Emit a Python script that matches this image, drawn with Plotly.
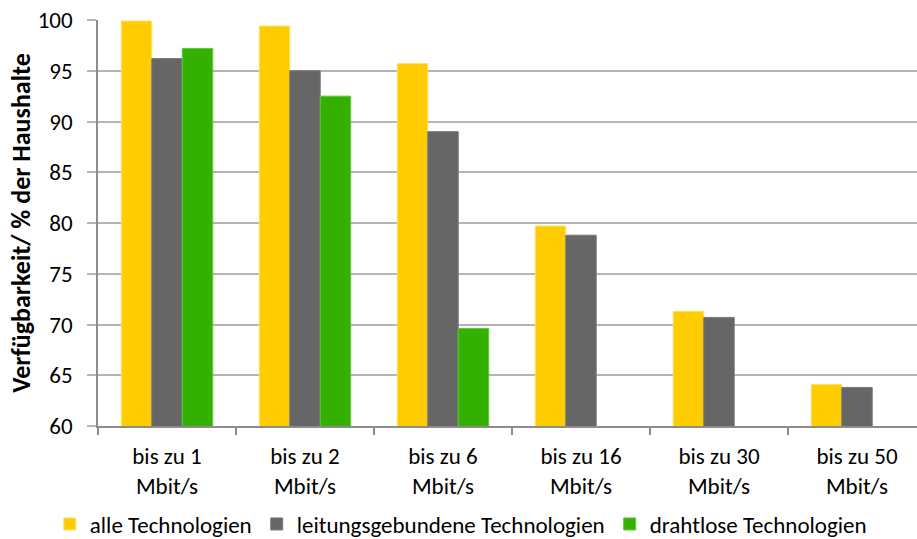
import plotly.graph_objects as go

categories = ["bis zu 1<br>Mbit/s", "bis zu 2<br>Mbit/s", "bis zu 6<br>Mbit/s",
              "bis zu 16<br>Mbit/s", "bis zu 30<br>Mbit/s", "bis zu 50<br>Mbit/s"]
alle = [99.9, 99.4, 95.7, 79.7, 71.3, 64.1]
leitung = [96.2, 95.0, 89.0, 78.8, 70.7, 63.8]
drahtlos = [97.2, 92.5, 69.6, 59.9, None, None]
series_names = ["alle Technologien", "leitungsgebundene Technologien", "drahtlose Technologien"]
colors = ["#FFCC00", "#666666", "#33B000"]
edge = ["#FFE066", "#7A7A7A", "#5CC83A"]
y_ticks = [60, 65, 70, 75, 80, 85, 90, 95, 100]

FONT = "Carlito, Lato"
fig = go.Figure()
for name, vals, c, e in zip(series_names, [alle, leitung, drahtlos], colors, edge):
    fig.add_trace(go.Bar(
        x=categories, y=vals, name=name,
        marker=dict(color=c, line=dict(color=e, width=1)),
    ))

fig.update_layout(
    width=917, height=539,
    margin=dict(l=98, r=0, t=20, b=113, autoexpand=False),
    paper_bgcolor="white", plot_bgcolor="white",
    barmode="group", bargap=0.337, bargroupgap=0,
    font=dict(family=FONT, size=23, color="#000000"),
    showlegend=True,
    legend=dict(orientation="h", x=0.443, xanchor="center", y=-0.2414, yanchor="middle",
                font=dict(family=FONT, size=23), itemwidth=30, traceorder="normal",
                tracegroupgap=0),
    xaxis=dict(
        range=[-0.5, 5.435], showgrid=False, showline=True, linecolor="#8C8C8C", linewidth=1.5,
        ticks="outside", tickson="boundaries", ticklen=7, tickcolor="#8C8C8C", tickwidth=1.5,
        ticklabelstandoff=9,
        tickfont=dict(family=FONT, size=23), fixedrange=True, automargin=False,
    ),
    yaxis=dict(
        range=[60, 100], tickvals=y_ticks, showgrid=True, gridcolor="#B4B4B4", gridwidth=1.5,
        showline=True, linecolor="#8C8C8C", linewidth=1.5,
        ticks="outside", ticklen=9, tickcolor="#B4B4B4", tickwidth=1.5,
        ticklabelstandoff=10, automargin=True,
        tickfont=dict(family=FONT, size=23), zeroline=False,
        title=dict(text="<b>Verfügbarkeit/ % der Haushalte</b>", font=dict(family=FONT, size=26), standoff=0),
    ),
)

fig.write_html("out.html", config={"displayModeBar": False},
               post_script="document.body.style.margin='0';")
